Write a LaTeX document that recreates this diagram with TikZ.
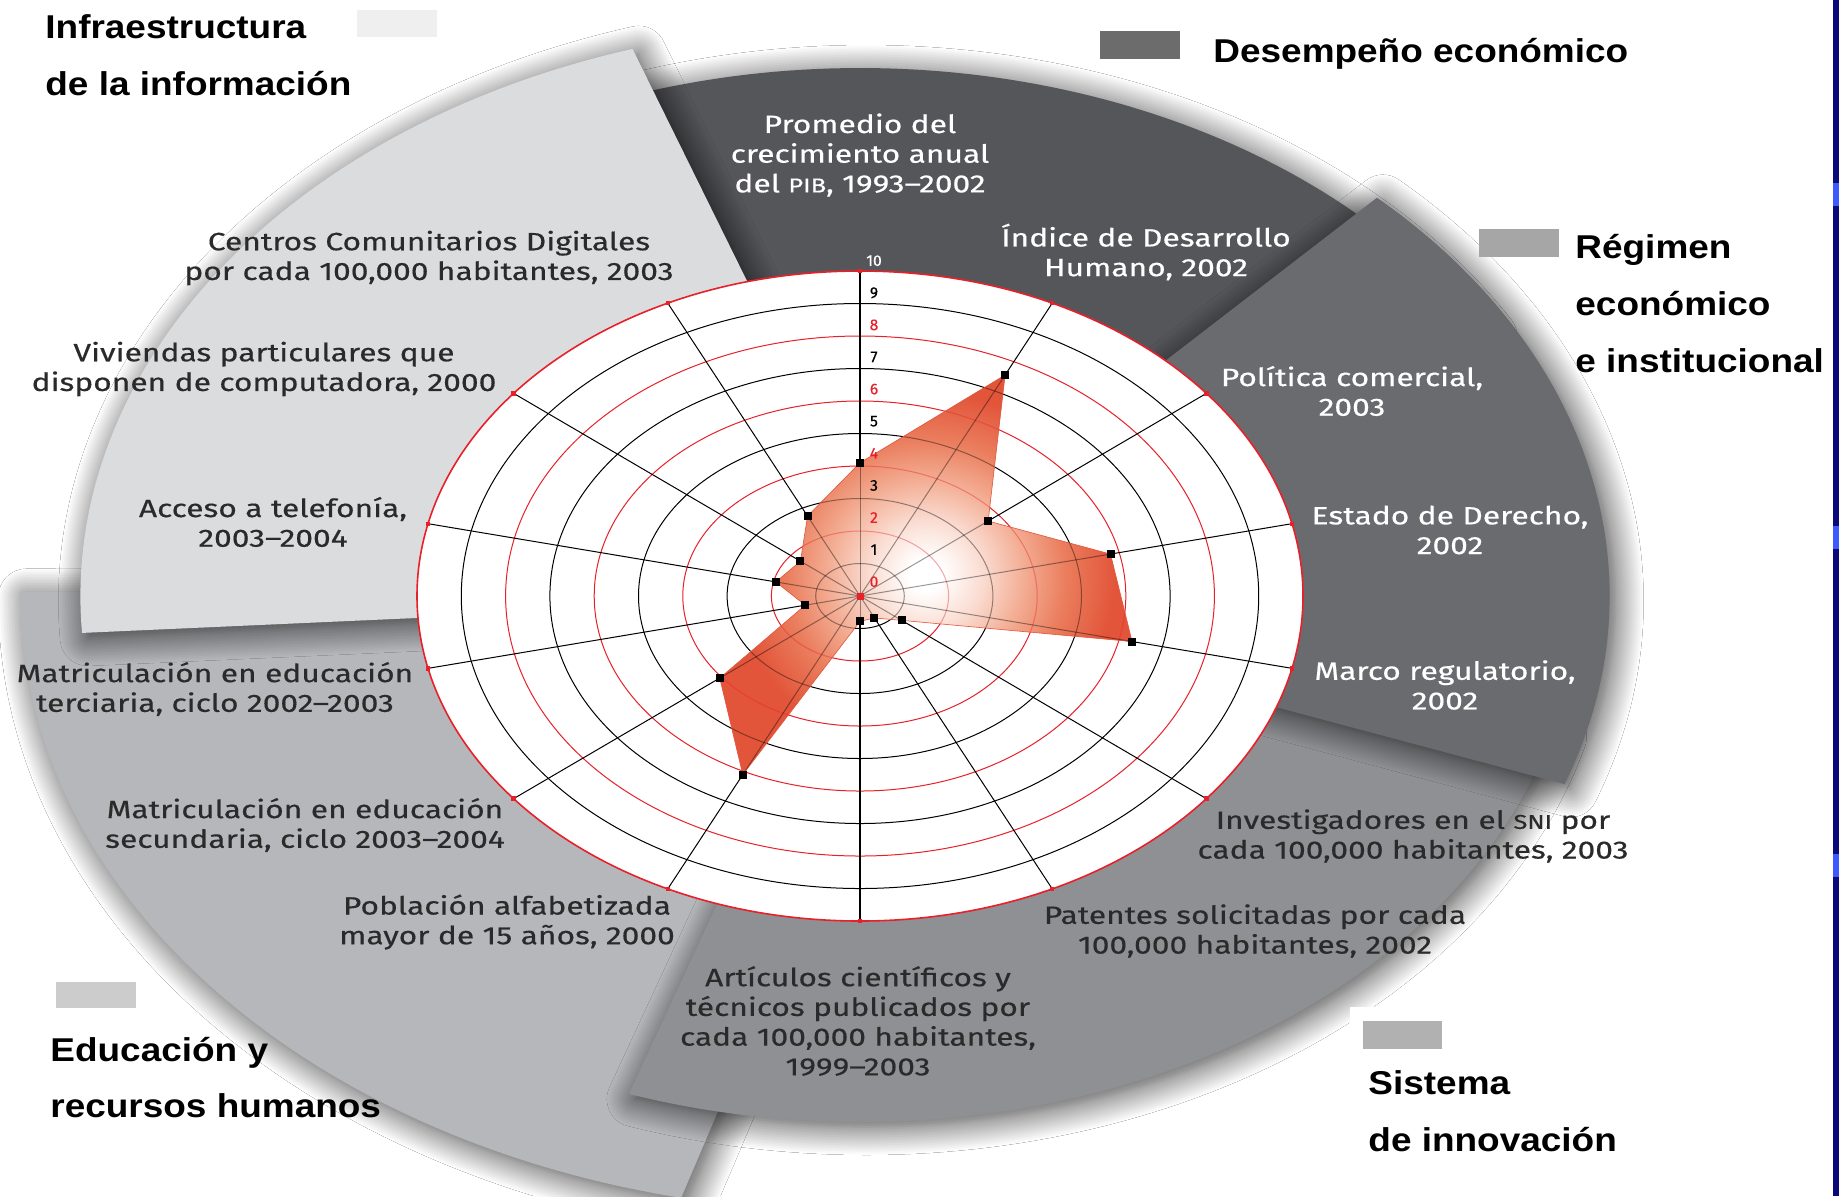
\documentclass[tikz,border=0pt]{standalone}
\usepackage{fontspec}
\setmainfont{Fira Sans}
\newfontfamily\labfont[FakeStretch=1.27,FakeBold=0.45]{Fira Sans}
\newfontfamily\legfont[FakeStretch=1.12]{Liberation Sans}
\newfontfamily\tickfont[FakeBold=0.3]{Fira Sans}
\usetikzlibrary{shadows.blur}
\definecolor{secA}{HTML}{DBDCDE}
\definecolor{secB}{HTML}{55565A}
\definecolor{secC}{HTML}{6A6B6F}
\definecolor{secD}{HTML}{8F9094}
\definecolor{secE}{HTML}{B6B7BB}
\definecolor{labdark}{HTML}{2A2A2A}
\definecolor{gridred}{HTML}{E8202A}
\definecolor{polyP}{HTML}{FADBD0}
\definecolor{polyA}{HTML}{F3AC92}
\definecolor{polyB}{HTML}{EA7D5D}
\definecolor{polyC}{HTML}{E2553A}
\definecolor{navy}{HTML}{0A0A78}
\definecolor{markblue}{HTML}{3C5AFF}
\definecolor{legA}{HTML}{EFEFEF}
\definecolor{legB}{HTML}{6C6C6C}
\definecolor{legC}{HTML}{A6A6A6}
\definecolor{legD}{HTML}{B1B1B1}
\definecolor{legE}{HTML}{CCCCCC}
\pgfdeclareradialshading{polyshade}{\pgfpoint{0bp}{0bp}}{color(0bp)=(white); color(2bp)=(white); color(7bp)=(polyP); color(12bp)=(polyA); color(17bp)=(polyB); color(23bp)=(polyC); color(50bp)=(polyC)}
\newcommand{\radargrid}{%
  \foreach \k/\c in {1/black,2/gridred,3/black,4/gridred,5/black,6/gridred,7/black,8/gridred,9/black}
    \draw[\c, line width=0.5pt] (0,0) ellipse[x radius={\k*22.15pt}, y radius={\k*16.25pt}];
  \foreach \k in {0,...,13} \draw[black, line width=0.5pt] (0,0) -- ({90-\k*360/14}:1);
}
\tikzset{
  sector/.style={blur shadow={shadow xshift=3pt, shadow yshift=-2.5pt, shadow blur radius=14pt, shadow blur steps=18, shadow opacity=75}},
  lab/.style={font=\labfont\fontsize{12.5}{14.85}\selectfont, align=center, text=labdark, inner sep=0pt},
  labw/.style={lab, text=white},
  leg/.style={font=\legfont\bfseries\fontsize{16.5}{20}\selectfont, anchor=base west, inner sep=0pt},
  marker/.style={fill=black, minimum size=4pt, inner sep=0pt},
  tick/.style={font=\tickfont\fontsize{7.8}{8}\selectfont, inner sep=0pt},
  enddot/.style={fill=gridred, minimum size=2.2pt, inner sep=0pt},
}
\begin{document}
\begin{tikzpicture}[x=0.5pt,y=-0.5pt]
\useasboundingbox (0,0) rectangle (1839,1196);
\fill[white] (0,0) rectangle (1839,1196);
% ---------- background sectors
\begin{scope}[shift={(860,596)},x=0.6815pt,y=0.5pt]
 \fill[secE,sector] (0,4) -- plot[domain=179.6:257.7,samples=80] (\x:616) -- (-37,-300) -- cycle;
 \fill[secB,sector] (0,0) -- plot[domain=30:118,samples=80] (\x:528) -- cycle;
 \fill[secA,sector] (-82.9,315) -- (-166.5,546) -- plot[domain=106.96:183.7,samples=80] (\x:572) -- (-325.7,-22) -- (0,0) -- cycle;
 \fill[secD,sector] (0,0) -- plot[domain=-108.8:-15,samples=80] (\x:526) -- cycle;
 \fill[secC,sector] (0,0) -- plot[domain=-20:46.4,samples=80] (\x:550) -- cycle;
\end{scope}
\fill[white] (1350,1007) rectangle (1500,1080);
% ---------- radar
\begin{scope}[shift={(860,596)},x=221.5pt,y=162.5pt]
 \fill[white] (0,0) ellipse[x radius=221.5pt, y radius=162.5pt];
 \radargrid
 \foreach \k/\v in {0/0.41,1/0.755,2/0.37,3/0.58,4/0.63,5/0.12,6/0.075,7/0.078,8/0.61,9/0.405,10/0.127,11/0.195,12/0.172,13/0.273}
   \coordinate (d\k) at ({90-\k*360/14}:\v);
 \path[shading=polyshade] (d0) -- (d1) -- (d2) -- (d3) -- (d4) -- (d5) -- (d6) -- (d7) -- (d8) -- (d9) -- (d10) -- (d11) -- (d12) -- (d13) -- cycle;
 \begin{scope}[opacity=0.4]
  \clip (d0) -- (d1) -- (d2) -- (d3) -- (d4) -- (d5) -- (d6) -- (d7) -- (d8) -- (d9) -- (d10) -- (d11) -- (d12) -- (d13) -- cycle;
  \radargrid
 \end{scope}
 \draw[polyC, line width=0.3pt] (d0) -- (d1) -- (d2) -- (d3) -- (d4) -- (d5) -- (d6) -- (d7) -- (d8) -- (d9) -- (d10) -- (d11) -- (d12) -- (d13) -- cycle;
 \coordinate (top) at (90:1);
 \coordinate (bot) at (-90:1);
 \draw[black, line width=1.3pt] (top) -- (d0);
 \draw[black, line width=1.3pt] (d7) -- (bot);
 \draw[gridred, line width=0.8pt] (0,0) ellipse[x radius=221.5pt, y radius=162.5pt];
 \foreach \k in {0,...,13} \node[enddot] (e\k) at ({90-\k*360/14}:1) {};
 \foreach \k in {0,...,13} \node[marker] (m\k) at (d\k) {};
 \node[fill=gridred, minimum size=3.5pt, inner sep=0pt] (ctr) at (0,0) {};
\end{scope}
% ---------- tick labels
\foreach \k/\c in {0/gridred,1/black,2/gridred,3/black,4/gridred,5/black,6/gridred,7/black,8/gridred,9/black,10/white}
  \node[tick,text=\c] (t\k) at (874,{581.7-32.1*\k}) {\k};
% ---------- indicator labels
\node[labw] (lPIB) at (860,155) {Promedio del\\crecimiento anual\\del {\fontsize{10}{12}\selectfont PIB}, 1993–2002};
\node[labw] (lIDH) at (1146,252) {Índice de Desarrollo\\Humano, 2002};
\node[labw] (lPol) at (1352,391) {Política comercial,\\2003};
\node[labw] (lEst) at (1450,530) {Estado de Derecho,\\2002};
\node[labw] (lMar) at (1445,685) {Marco regulatorio,\\2002};
\node[lab] (lInv) at (1413,836) {Investigadores en el {\fontsize{10}{12}\selectfont SNI} por\\cada 100,000 habitantes, 2003};
\node[lab] (lPat) at (1255,931) {Patentes solicitadas por cada\\100,000 habitantes, 2002};
\node[lab] (lArt) at (858,1021) {Artículos científicos y\\técnicos publicados por\\cada 100,000 habitantes,\\1999–2003};
\node[lab] (lPob) at (507,922) {Población alfabetizada\\mayor de 15 años, 2000};
\node[lab] (lSec) at (305,825) {Matriculación en educación\\secundaria, ciclo 2003–2004};
\node[lab] (lTer) at (215,689) {Matriculación en educación\\terciaria, ciclo 2002–2003};
\node[lab] (lTel) at (273,522) {Acceso a telefonía,\\2003–2004};
\node[lab] (lViv) at (264,369) {Viviendas particulares que\\disponen de computadora, 2000};
\node[lab] (lCen) at (429,258) {Centros Comunitarios Digitales\\por cada 100,000 habitantes, 2003};
% ---------- legend
\fill[legA] (357,10) rectangle (437,37);
\node[leg] (gA1) at (45,38.3) {Infraestructura};
\node[leg] (gA2) at (45,95.7) {de la información};
\fill[legB] (1100,31) rectangle (1180,59);
\node[leg] (gB1) at (1213,62) {Desempeño económico};
\fill[legC] (1479,229) rectangle (1559,256.5);
\node[leg] (gC1) at (1575,258.6) {Régimen};
\node[leg] (gC2) at (1575,315.5) {económico};
\node[leg] (gC3) at (1575,372.5) {e institucional};
\fill[legE] (56,981.5) rectangle (136,1008);
\node[leg] (gE1) at (50,1061) {Educación y};
\node[leg] (gE2) at (50,1117.5) {recursos humanos};
\fill[legD] (1362.5,1021) rectangle (1441.5,1049);
\node[leg] (gD1) at (1368,1094.7) {Sistema};
\node[leg] (gD2) at (1368,1151.7) {de innovación};
% ---------- right edge strip
\fill[navy] (1833,0) rectangle (1839,1196);
\fill[markblue] (1833,183) rectangle (1839,206);
\fill[markblue] (1833,526) rectangle (1839,549);
\fill[markblue] (1833,854) rectangle (1839,877);
\end{tikzpicture}
\end{document}
